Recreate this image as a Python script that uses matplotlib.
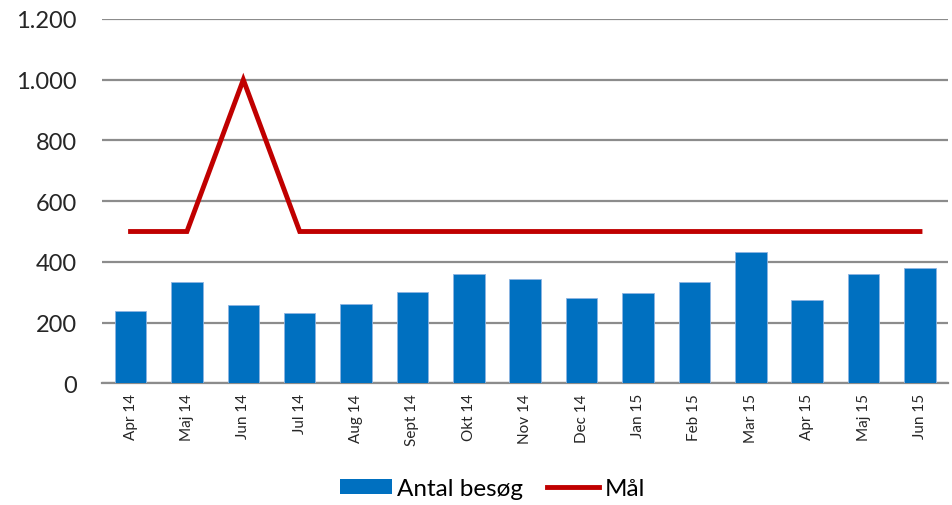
import matplotlib
matplotlib.use("Agg")
import matplotlib.pyplot as plt
from matplotlib.patches import Patch
from matplotlib.lines import Line2D
from matplotlib.ticker import FuncFormatter

categories = ["Apr 14", "Maj 14", "Jun 14", "Jul 14", "Aug 14", "Sept 14", "Okt 14",
              "Nov 14", "Dec 14", "Jan 15", "Feb 15", "Mar 15", "Apr 15", "Maj 15", "Jun 15"]
visits = [238, 333, 257, 232, 262, 300, 360, 343, 281, 298, 335, 432, 274, 359, 381]
goal = [500, 500, 1000, 500, 500, 500, 500, 500, 500, 500, 500, 500, 500, 500, 500]
yticks = [0, 200, 400, 600, 800, 1000, 1200]

plt.rcParams['font.family'] = ['Lato', 'DejaVu Sans']

fig = plt.figure(figsize=(9.52, 5.06), dpi=100)
ax = fig.add_axes([0.1075, 0.2405, 0.8885, 0.72])

x = list(range(len(categories)))
ax.bar(x, visits, width=0.56, color="#0070C0", edgecolor="#8DB4E2", linewidth=0.6, zorder=3)
ax.plot(x, goal, color="#C00000", linewidth=3.5, zorder=4, solid_joinstyle='miter')

ax.set_xlim(-0.5, len(categories) - 0.5)
ax.set_ylim(0, 1200)
ax.set_yticks(yticks)
ax.yaxis.set_major_formatter(FuncFormatter(lambda v, p: f"{int(v):,}".replace(",", ".")))
ax.grid(axis='y', color="#8C8C8C", linewidth=1.6, zorder=0)
ax.set_axisbelow(True)
for s in ["top", "right", "left"]:
    ax.spines[s].set_visible(False)
ax.spines["bottom"].set_color("#8C8C8C")
ax.spines["bottom"].set_linewidth(1.6)
ax.tick_params(axis='y', length=0, labelsize=17, pad=18.5, labelcolor="#262626")
ax.tick_params(axis='x', length=0, labelsize=11, pad=7, labelcolor="#262626")
ax.set_xticks(x)
ax.set_xticklabels(categories, rotation=90)

handles = [Patch(facecolor="#0070C0", edgecolor="none"),
           Line2D([0], [0], color="#C00000", linewidth=3.5)]
fig.legend(handles, ["Antal besøg", "Mål"], loc="center", bbox_to_anchor=(0.517, 0.032),
           ncol=2, frameon=False, fontsize=17.5, handlelength=2.15, handleheight=0.58,
           handletextpad=0.2, columnspacing=1.0)

fig.savefig("out.png", dpi=100)
